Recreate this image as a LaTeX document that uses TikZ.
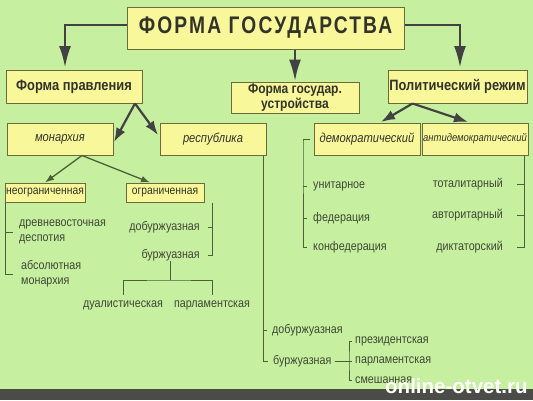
\documentclass[tikz,border=0pt]{standalone}
\usepackage{fontspec}
\setmainfont{Liberation Sans}
\newfontfamily\narrowsans[FakeStretch=0.86]{Liberation Sans}
\newfontfamily\titlesans[FakeStretch=0.8,LetterSpace=9]{Liberation Sans}
\usetikzlibrary{arrows.meta,positioning}
\definecolor{bg}{HTML}{C6EFA0}
\definecolor{boxfill}{HTML}{F8F89A}
\definecolor{boxline}{HTML}{6E6A3C}
\definecolor{ink}{HTML}{33332A}
\definecolor{leafink}{HTML}{3F4836}
\definecolor{wire}{HTML}{4C6038}
\definecolor{pipe}{HTML}{424242}
\definecolor{band}{HTML}{4B4B48}

\begin{document}
\begin{tikzpicture}[x=1pt,y=-1pt,
  box/.style={draw=boxline,fill=boxfill,line width=1pt,inner sep=0pt,text=ink,align=center},
  headbox/.style={box,font=\narrowsans\bfseries\fontsize{15}{15}\selectfont},
  kindbox/.style={box,font=\narrowsans\itshape\fontsize{13}{13}\selectfont},
  subbox/.style={box,font=\narrowsans\fontsize{12}{12}\selectfont},
  leaf/.style={inner sep=0pt,text=leafink,align=left,font=\narrowsans\fontsize{12.5}{15}\selectfont},
  bigarrow/.style={draw=pipe,line width=2.8pt,-{Latex[length=22pt,width=12pt]}},
  midarrow/.style={draw=pipe,line width=2.2pt,-{Latex[length=14pt,width=10pt]}},
  smallarrow/.style={draw=wire,line width=1.3pt,-{Latex[length=9pt,width=6.5pt]}},
  bracket/.style={draw=wire,line width=1pt}]
\useasboundingbox (0,0) rectangle (533,400);
\fill[bg] (0,0) rectangle (533,400);
\fill[band] (0,389) rectangle (533,400);

% top level
\node[box,minimum width=277pt,minimum height=42pt,font=\titlesans\bfseries\fontsize{24}{24}\selectfont] (state) at (265.5,28) {ФОРМА ГОСУДАРСТВА};
\node[headbox,minimum width=136pt,minimum height=33pt] (rule) at (74,86.5) {Форма правления};
\node[headbox,minimum width=128pt,minimum height=31pt,font=\narrowsans\bfseries\fontsize{14}{13}\selectfont] (struct) at (295,97.5) {Форма государ.\\устройства};
\node[headbox,minimum width=139pt,minimum height=33pt] (regime) at (457.5,86.5) {Политический режим};

\draw[bigarrow] ([yshift=3pt]state.west) -| (65,68);
\draw[bigarrow] ([yshift=3pt]state.east) -| (460,68);
\draw[bigarrow] (state.south -| struct.north) -- (struct.north);

% forms of rule
\node[kindbox,minimum width=106pt,minimum height=32pt] (mon) at (60,139) {монархия};
\node[kindbox,minimum width=106pt,minimum height=32pt] (rep) at (213,139) {республика};
\draw[midarrow] ([xshift=61pt]rule.south) -- (114,142);
\draw[midarrow] ([xshift=61pt]rule.south) -- (158,135);

\node[subbox,minimum width=80pt,minimum height=19pt] (unlim) at (45,192.5) {неограниченная};
\node[subbox,minimum width=78pt,minimum height=19pt] (lim) at (165,192.5) {ограниченная};
\draw[smallarrow] ([xshift=22pt]mon.south) -- (unlim.north);
\draw[smallarrow] ([xshift=22pt]mon.south) -- ([xshift=-15pt]lim.north);

\node[leaf,anchor=west] (despot) at (19,232) {древневосточная\\деспотия};
\node[leaf,anchor=west] (absol) at (21,274) {абсолютная\\монархия};
\draw[bracket] ([xshift=1pt]unlim.south west) |- ([xshift=-6pt]despot.west);
\draw[bracket] ([xshift=1pt]unlim.south west) |- ([xshift=-8pt]absol.west);

\node[leaf,anchor=east] (prebourg) at (200,227) {добуржуазная};
\node[leaf,anchor=east] (bourg) at (200,255) {буржуазная};
\draw[bracket] ([xshift=8pt]lim.south east) |- ([xshift=8pt]prebourg.east);
\draw[bracket] ([xshift=8pt]lim.south east) |- ([xshift=8pt]bourg.east);

\node[leaf,anchor=north] (dual) at (123,301) {дуалистическая};
\node[leaf,anchor=north] (parlmon) at (212,301) {парламентская};
\coordinate (fork) at (170,280);
\draw[bracket] (bourg.south -| fork) -- (fork);
\draw[bracket] ([yshift=6pt]dual.north) |- (fork) -| ([yshift=6pt]parlmon.north);

% republic
\node[leaf,anchor=west] (prerep) at (272,330) {добуржуазная};
\node[leaf,anchor=west] (bourgrep) at (273,361) {буржуазная};
\draw[bracket] ([xshift=-3pt]rep.south east) |- ([xshift=-5pt]prerep.west);
\draw[bracket] ([xshift=-3pt]rep.south east) |- ([xshift=-5pt]bourgrep.west);

\node[leaf,anchor=west] (pres) at (355,341) {президентская};
\node[leaf,anchor=west] (parlrep) at (355,361) {парламентская};
\node[leaf,anchor=west] (mixed) at (355,380) {смешанная};
\draw[bracket] ([xshift=3pt]bourgrep.east) -- ([xshift=-3pt]parlrep.west);
\draw[bracket] ([xshift=-3pt]pres.west) -| (349,361) |- ([xshift=-3pt]mixed.west);

% political regime
\node[kindbox,minimum width=106pt,minimum height=32pt] (dem) at (367,139) {демократический};
\node[box,minimum width=106pt,minimum height=32pt,font=\narrowsans\itshape\fontsize{11}{11}\selectfont] (antidem) at (475,139) {антидемократический};
\draw[midarrow] ([xshift=-45pt]regime.south) -- (381,122);
\draw[midarrow] ([xshift=-45pt]regime.south) -- (468,122);

\node[leaf,anchor=west] (unitary) at (313,186) {унитарное};
\node[leaf,anchor=west] (feder) at (313,218) {федерация};
\node[leaf,anchor=west] (confed) at (313,247) {конфедерация};
\coordinate (rail) at (303,141);
\draw[bracket] ([xshift=-4pt]dem.west) -| (rail) |- ([xshift=-6pt]confed.west);
\draw[bracket] (rail |- unitary.west) -- ([xshift=-6pt]unitary.west);
\draw[bracket] (rail |- feder.west) -- ([xshift=-6pt]feder.west);

\node[leaf,anchor=east] (total) at (503,184) {тоталитарный};
\node[leaf,anchor=east] (author) at (503,215) {авторитарный};
\node[leaf,anchor=east] (dictat) at (503,247) {диктаторский};
\draw[bracket] ([xshift=-4pt]antidem.south east) |- ([xshift=14pt]total.east);
\draw[bracket] ([xshift=-4pt]antidem.south east) |- ([xshift=14pt]author.east);
\draw[bracket] ([xshift=-4pt]antidem.south east) |- ([xshift=14pt]dictat.east);

\node[anchor=base west,inner sep=0pt,text=white,font=\bfseries\fontsize{20.5}{20}\selectfont] (mark) at (385,393) {online-otvet.ru};
\end{tikzpicture}
\end{document}
